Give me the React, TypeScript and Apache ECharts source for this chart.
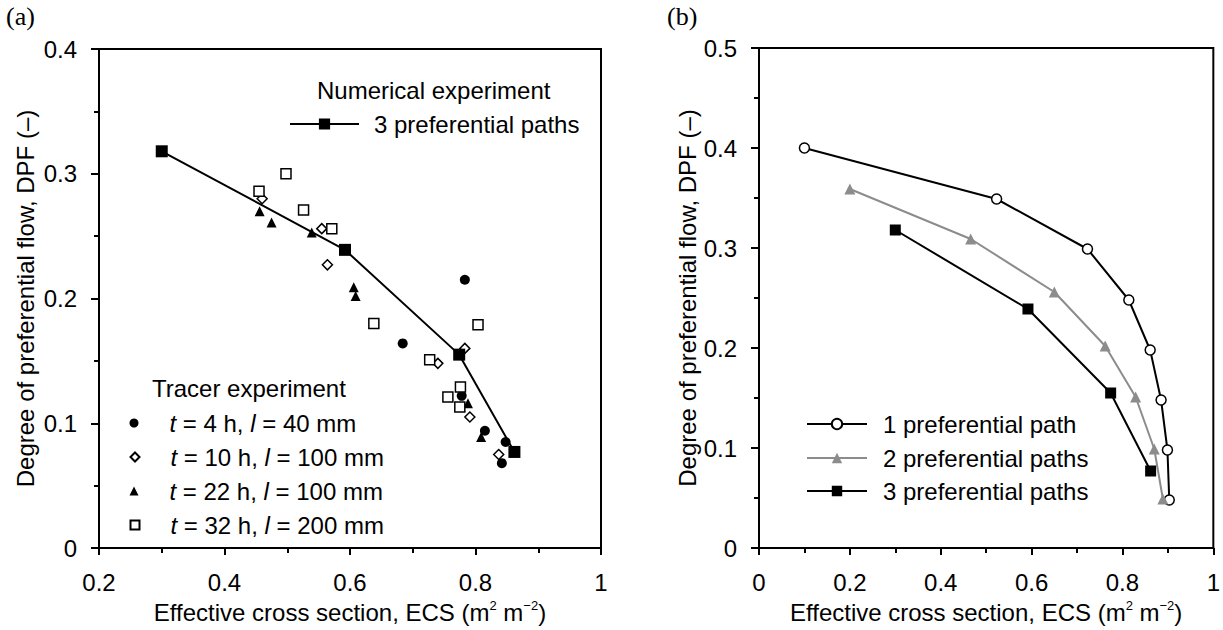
import React, { useEffect, useRef } from "react";
import * as echarts from "echarts";

// Panel (a): tracer experiment observations, [ECS, DPF]
const tracer4h = [[0.684, 0.164], [0.783, 0.215], [0.778, 0.122], [0.815, 0.094], [0.848, 0.085], [0.842, 0.068]];
const tracer10h = [[0.46, 0.28], [0.555, 0.256], [0.564, 0.227], [0.783, 0.16], [0.74, 0.148], [0.791, 0.105], [0.837, 0.075]];
const tracer22h = [[0.456, 0.27], [0.475, 0.261], [0.539, 0.253], [0.606, 0.209], [0.609, 0.202], [0.776, 0.113], [0.788, 0.116], [0.809, 0.089]];
const tracer32h = [[0.455, 0.286], [0.498, 0.3], [0.526, 0.271], [0.571, 0.256], [0.638, 0.18], [0.727, 0.151], [0.776, 0.129], [0.756, 0.121], [0.775, 0.113], [0.804, 0.179]];

// Numerical experiment, one curve per number of preferential paths
const path1 = [[0.1, 0.4], [0.523, 0.349], [0.723, 0.299], [0.814, 0.248], [0.861, 0.198], [0.885, 0.148], [0.899, 0.098], [0.903, 0.048]];
const path2 = [[0.2, 0.359], [0.466, 0.309], [0.65, 0.256], [0.762, 0.202], [0.829, 0.151], [0.87, 0.099], [0.889, 0.049]];
const path3 = [[0.3, 0.318], [0.592, 0.239], [0.774, 0.155], [0.862, 0.077]];

// Axis ranges
const xRangeA = [0.2, 1];
const yRangeA = [0, 0.4];
const xRangeB = [0, 1];
const yRangeB = [0, 0.5];
const xStep = 0.2;
const yStep = 0.1;

const tracerNames = ["t = 4 h, l = 40 mm", "t = 10 h, l = 100 mm", "t = 22 h, l = 100 mm", "t = 32 h, l = 200 mm"];
const pathNames = ["1 preferential path", "2 preferential paths", "3 preferential paths"];

const FONT = '"Liberation Sans", Arial, sans-serif';
const SERIF = '"Liberation Serif", "Times New Roman", serif';
const BLACK = "#000";
const GREY = "#8c8c8c";
const FS = 24;

const xTitle = "Effective cross section, ECS (m{sup|2} m{sup|−2})";
const yTitle = "Degree of preferential flow, DPF (–)";

const titleStyle = {
  color: BLACK,
  fontSize: FS,
  fontFamily: FONT,
  lineHeight: 26,
  rich: {
    sup: { fontSize: 13, fontFamily: FONT, color: BLACK, verticalAlign: "top", lineHeight: 26 },
  },
};

function xAxis(gridIndex: number, range: number[]) {
  return {
    type: "value",
    gridIndex,
    min: range[0],
    max: range[1],
    interval: xStep,
    axisLine: { show: true, onZero: false, lineStyle: { color: BLACK, width: 2 } },
    axisTick: { show: true, length: 7, lineStyle: { color: BLACK, width: 2 } },
    minorTick: { show: true, splitNumber: 2, length: 5, lineStyle: { color: BLACK, width: 2 } },
    splitLine: { show: false },
    axisLabel: { color: BLACK, fontSize: FS, fontFamily: FONT, margin: 22 },
    name: xTitle,
    nameLocation: "middle",
    nameGap: 51,
    nameTextStyle: titleStyle,
  };
}

function yAxis(gridIndex: number, range: number[], nameGap: number) {
  return {
    type: "value",
    gridIndex,
    min: range[0],
    max: range[1],
    interval: yStep,
    axisLine: { show: true, onZero: false, lineStyle: { color: BLACK, width: 2 } },
    axisTick: { show: true, length: 8, lineStyle: { color: BLACK, width: 2 } },
    minorTick: { show: true, splitNumber: 2, length: 5, lineStyle: { color: BLACK, width: 2 } },
    splitLine: { show: false },
    axisLabel: { color: BLACK, fontSize: FS, fontFamily: FONT, margin: 22 },
    name: yTitle,
    nameLocation: "middle",
    nameGap,
    nameTextStyle: { color: BLACK, fontSize: FS, fontFamily: FONT },
  };
}

const legendText = {
  color: BLACK,
  fontSize: FS,
  fontFamily: FONT,
  lineHeight: 24,
  rich: {
    i: { fontStyle: "italic", color: BLACK, fontSize: FS, fontFamily: FONT, lineHeight: 24 },
  },
};

function italicLabel(name: string) {
  return name.replace(/^t /, "{i|t} ").replace(", l =", ", {i|l} =");
}

function singleLegend(name: string, left: number, top: number, itemWidth: number, itemHeight: number, padLeft: number) {
  return {
    show: true,
    data: [name],
    left,
    top,
    padding: 0,
    itemWidth,
    itemHeight,
    symbolKeepAspect: true,
    selectedMode: false,
    formatter: italicLabel,
    textStyle: { ...legendText, padding: [0, 0, 0, padLeft] },
  };
}

const openStyle = { color: "#fff", borderColor: BLACK, borderWidth: 1.5, opacity: 1 };
const solidStyle = { color: BLACK, opacity: 1 };

export default function App() {
  const ref = useRef<HTMLDivElement>(null);

  useEffect(() => {
    if (!ref.current) return;
    const chart = echarts.init(ref.current, null, { renderer: "svg" });

    const tracerRows = [423, 457, 491, 525];
    const pathRows = [424, 458, 491];

    const option = {
      animation: false,
      backgroundColor: "#fff",
      grid: [
        { left: 99, top: 49, width: 502, height: 504, show: true, borderColor: BLACK, borderWidth: 2, backgroundColor: "transparent" },
        { left: 759, top: 48, width: 457, height: 505, show: true, borderColor: BLACK, borderWidth: 2, backgroundColor: "transparent" },
      ],
      xAxis: [xAxis(0, xRangeA), xAxis(1, xRangeB)],
      yAxis: [yAxis(0, yRangeA, 62), yAxis(1, yRangeB, 54)],
      legend: [
        singleLegend(pathNames[2], 289, 112, 69, 14, 10),
        ...tracerNames.map((n, i) => singleLegend(n, 129.5, tracerRows[i] - 12, 9, 9, 26)),
        ...pathNames.map((n, i) => singleLegend(n, 806, pathRows[i] - 12, 60, 13, 11)),
      ],
      graphic: [
        { type: "text", left: 6, top: 3, style: { text: "(a)", fontSize: 26, fontFamily: SERIF, fill: BLACK } },
        { type: "text", left: 667, top: 3, style: { text: "(b)", fontSize: 26, fontFamily: SERIF, fill: BLACK } },
        { type: "text", left: 317, top: 78, style: { text: "Numerical experiment", fontSize: FS, fontFamily: FONT, fill: BLACK } },
        { type: "text", left: 152, top: 376, style: { text: "Tracer experiment", fontSize: FS, fontFamily: FONT, fill: BLACK } },
      ],
      series: [
        {
          name: pathNames[2],
          type: "line",
          xAxisIndex: 0,
          yAxisIndex: 0,
          data: path3,
          symbol: "rect",
          symbolSize: 12,
          itemStyle: solidStyle,
          lineStyle: { color: BLACK, width: 2 },
          z: 3,
        },
        {
          name: tracerNames[0],
          type: "scatter",
          xAxisIndex: 0,
          yAxisIndex: 0,
          data: tracer4h,
          symbol: "circle",
          symbolSize: 10,
          itemStyle: solidStyle,
        },
        {
          name: tracerNames[1],
          type: "scatter",
          xAxisIndex: 0,
          yAxisIndex: 0,
          data: tracer10h,
          symbol: "diamond",
          symbolSize: 10,
          itemStyle: openStyle,
        },
        {
          name: tracerNames[2],
          type: "scatter",
          xAxisIndex: 0,
          yAxisIndex: 0,
          data: tracer22h,
          symbol: "triangle",
          symbolSize: 10,
          itemStyle: solidStyle,
        },
        {
          name: tracerNames[3],
          type: "scatter",
          xAxisIndex: 0,
          yAxisIndex: 0,
          data: tracer32h,
          symbol: "rect",
          symbolSize: 10,
          itemStyle: openStyle,
        },
        {
          name: pathNames[0],
          type: "line",
          xAxisIndex: 1,
          yAxisIndex: 1,
          data: path1,
          symbol: "circle",
          symbolSize: 10,
          itemStyle: openStyle,
          lineStyle: { color: BLACK, width: 2 },
        },
        {
          name: pathNames[1],
          type: "line",
          xAxisIndex: 1,
          yAxisIndex: 1,
          data: path2,
          symbol: "triangle",
          symbolSize: 11,
          itemStyle: { color: GREY, opacity: 1 },
          lineStyle: { color: GREY, width: 2 },
        },
        {
          name: pathNames[2],
          type: "line",
          xAxisIndex: 1,
          yAxisIndex: 1,
          data: path3,
          symbol: "rect",
          symbolSize: 11,
          itemStyle: solidStyle,
          lineStyle: { color: BLACK, width: 2 },
        },
      ],
    };

    chart.setOption(option as any);
    return () => chart.dispose();
  }, []);

  return (
    <div
      ref={ref}
      style={{ position: "absolute", left: 0, top: 0, width: 1223, height: 630, background: "#fff" }}
    />
  );
}
